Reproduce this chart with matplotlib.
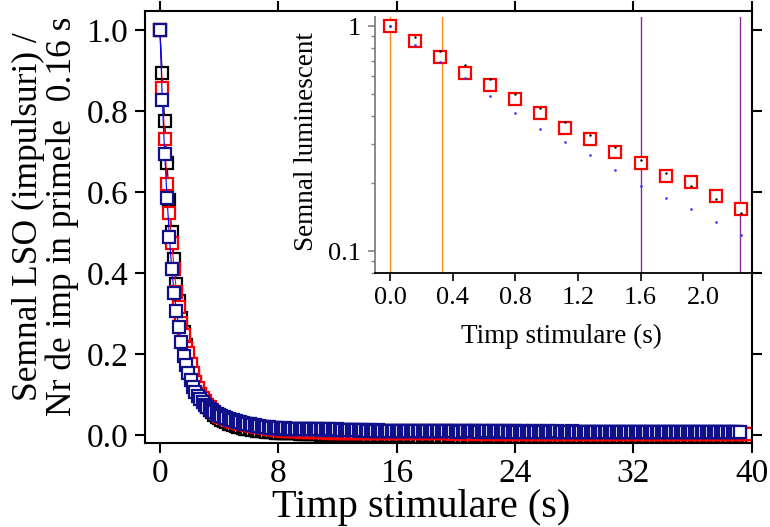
import matplotlib.pyplot as plt
import numpy as np
from matplotlib.ticker import LogLocator, NullFormatter, FixedLocator, FixedFormatter

plt.rcParams['font.family'] = ['Liberation Serif', 'DejaVu Serif']

# one channel = 0.16 s
step = 0.16

# normalised LSO signal
black_decay = [1.000, 0.893, 0.776, 0.671, 0.580, 0.502, 0.434, 0.374, 0.330, 0.290,
               0.255, 0.222, 0.195, 0.170, 0.148, 0.130, 0.114, 0.100, 0.088, 0.078,
               0.070, 0.062, 0.056, 0.050, 0.045, 0.041, 0.037, 0.034, 0.031, 0.028,
               0.026, 0.024, 0.022, 0.020, 0.019, 0.017, 0.016, 0.015, 0.014, 0.013,
               0.012, 0.011, 0.010, 0.010, 0.009, 0.008, 0.008, 0.007, 0.007, 0.006]
black_tail = [0.006, 0.006, 0.005, 0.005, 0.005, 0.004, 0.004, 0.004, 0.004, 0.003, 0.003, 0.003, 0.003, 0.002,
              0.002, 0.002, 0.002, 0.002, 0.001, 0.001, 0.001, 0.001, 0.001, 0.001, 0.000, 0.000, 0.000, 0.000,
              0.000, 0.000, -0.001, 0.000, -0.001, -0.001, -0.001, -0.001, -0.001, -0.001, -0.002, -0.001, -0.002, -0.002,
              -0.002, -0.002, -0.002, -0.002, -0.002, -0.002, -0.002, -0.003, -0.002, -0.003, -0.002, -0.003, -0.003, -0.003,
              -0.003, -0.003, -0.003, -0.003, -0.004, -0.003, -0.003, -0.003, -0.003, -0.004, -0.003, -0.003, -0.004, -0.003,
              -0.003, -0.004, -0.003, -0.004, -0.003, -0.003, -0.004, -0.004, -0.003, -0.004, -0.004, -0.003, -0.004, -0.004,
              -0.004, -0.003, -0.004, -0.004, -0.004, -0.004, -0.003, -0.004, -0.004, -0.004, -0.004, -0.004, -0.003, -0.004,
              -0.004, -0.004, -0.004, -0.004, -0.004, -0.003, -0.004, -0.004, -0.004, -0.004, -0.004, -0.004, -0.004, -0.004,
              -0.004, -0.004, -0.003, -0.004, -0.004, -0.004, -0.004, -0.004, -0.004, -0.004, -0.004, -0.004, -0.004, -0.004,
              -0.004, -0.004, -0.004, -0.004, -0.004, -0.004, -0.003, -0.004, -0.004, -0.004, -0.004, -0.004, -0.004, -0.004,
              -0.004, -0.004, -0.004, -0.004, -0.004, -0.004, -0.004, -0.004, -0.004, -0.004, -0.004, -0.004, -0.004, -0.004,
              -0.004, -0.004, -0.004, -0.004, -0.004, -0.004, -0.004, -0.004, -0.004, -0.004, -0.004, -0.004, -0.004, -0.004,
              -0.004, -0.004, -0.004, -0.004, -0.004, -0.004, -0.004, -0.004, -0.004, -0.004, -0.004, -0.004, -0.004, -0.004,
              -0.004, -0.004, -0.004, -0.004, -0.004, -0.004, -0.004, -0.004, -0.004, -0.004, -0.004, -0.004, -0.004, -0.004,
              -0.004, -0.004, -0.004, -0.004, -0.004]

red_decay = [1.000, 0.858, 0.731, 0.621, 0.547, 0.475, 0.410, 0.352, 0.316, 0.276,
             0.247, 0.215, 0.202, 0.176, 0.154, 0.132, 0.115, 0.102, 0.092, 0.083,
             0.075, 0.068, 0.062, 0.057, 0.052, 0.048, 0.045, 0.042, 0.039, 0.037,
             0.035, 0.033, 0.031, 0.029, 0.028, 0.027, 0.026, 0.025, 0.024, 0.023,
             0.022, 0.021, 0.020, 0.019, 0.018, 0.017, 0.016, 0.015, 0.014, 0.013]
red_tail = [0.012, 0.012, 0.011, 0.011, 0.010, 0.010, 0.010, 0.009, 0.009, 0.009, 0.008, 0.008, 0.008, 0.008,
            0.008, 0.007, 0.007, 0.007, 0.007, 0.007, 0.007, 0.006, 0.007, 0.006, 0.006, 0.007, 0.006, 0.006,
            0.006, 0.006, 0.006, 0.006, 0.005, 0.006, 0.006, 0.006, 0.005, 0.006, 0.005, 0.006, 0.005, 0.005,
            0.005, 0.006, 0.005, 0.005, 0.005, 0.005, 0.005, 0.005, 0.004, 0.005, 0.005, 0.005, 0.004, 0.005,
            0.005, 0.004, 0.005, 0.004, 0.005, 0.004, 0.004, 0.005, 0.004, 0.004, 0.004, 0.005, 0.004, 0.004,
            0.004, 0.004, 0.004, 0.004, 0.003, 0.004, 0.004, 0.004, 0.004, 0.003, 0.004, 0.004, 0.003, 0.004,
            0.004, 0.003, 0.004, 0.003, 0.004, 0.003, 0.003, 0.004, 0.003, 0.003, 0.004, 0.003, 0.003, 0.003,
            0.003, 0.004, 0.003, 0.003, 0.003, 0.003, 0.003, 0.004, 0.003, 0.003, 0.003, 0.003, 0.003, 0.003,
            0.003, 0.003, 0.002, 0.003, 0.003, 0.003, 0.003, 0.002, 0.003, 0.003, 0.003, 0.003, 0.002, 0.003,
            0.003, 0.003, 0.002, 0.003, 0.003, 0.002, 0.003, 0.003, 0.002, 0.003, 0.003, 0.002, 0.003, 0.002,
            0.003, 0.002, 0.003, 0.002, 0.003, 0.003, 0.002, 0.002, 0.003, 0.002, 0.003, 0.002, 0.002, 0.003,
            0.002, 0.003, 0.002, 0.002, 0.002, 0.003, 0.002, 0.002, 0.003, 0.002, 0.002, 0.002, 0.003, 0.002,
            0.002, 0.002, 0.003, 0.002, 0.002, 0.002, 0.002, 0.003, 0.002, 0.002, 0.002, 0.002, 0.002, 0.003,
            0.002, 0.002, 0.002, 0.002, 0.003, 0.002, 0.002, 0.002, 0.002, 0.002, 0.002, 0.003, 0.002, 0.002,
            0.002, 0.002, 0.002, 0.002, 0.002]

blue_decay = [1.000, 0.827, 0.695, 0.586, 0.489, 0.410, 0.350, 0.306, 0.267, 0.230,
              0.195, 0.173, 0.154, 0.135, 0.118, 0.105, 0.096, 0.088, 0.081, 0.075,
              0.069, 0.065, 0.060, 0.056, 0.053, 0.050, 0.047, 0.044, 0.042, 0.040,
              0.038, 0.036, 0.034, 0.032, 0.031, 0.029, 0.028, 0.027, 0.026, 0.025,
              0.024, 0.023, 0.022, 0.021, 0.020, 0.019, 0.019, 0.018, 0.018, 0.017]
blue_tail = [0.017, 0.016, 0.016, 0.017, 0.016, 0.015, 0.016, 0.015, 0.015, 0.016, 0.015, 0.014, 0.015, 0.015,
             0.014, 0.014, 0.015, 0.014, 0.013, 0.014, 0.014, 0.013, 0.014, 0.013, 0.013, 0.014, 0.013, 0.012,
             0.013, 0.012, 0.013, 0.012, 0.012, 0.013, 0.012, 0.011, 0.012, 0.012, 0.011, 0.012, 0.011, 0.011,
             0.012, 0.011, 0.011, 0.010, 0.011, 0.011, 0.010, 0.011, 0.010, 0.010, 0.011, 0.010, 0.010, 0.010,
             0.010, 0.009, 0.010, 0.010, 0.009, 0.010, 0.010, 0.009, 0.010, 0.009, 0.009, 0.010, 0.009, 0.009,
             0.010, 0.009, 0.009, 0.009, 0.010, 0.009, 0.009, 0.008, 0.009, 0.009, 0.009, 0.010, 0.009, 0.009,
             0.009, 0.008, 0.009, 0.009, 0.009, 0.008, 0.009, 0.009, 0.008, 0.009, 0.009, 0.008, 0.009, 0.009,
             0.008, 0.009, 0.009, 0.008, 0.008, 0.009, 0.008, 0.009, 0.008, 0.008, 0.009, 0.008, 0.008, 0.009,
             0.008, 0.008, 0.009, 0.008, 0.008, 0.008, 0.009, 0.008, 0.008, 0.007, 0.008, 0.008, 0.009, 0.008,
             0.008, 0.008, 0.007, 0.008, 0.008, 0.008, 0.007, 0.008, 0.008, 0.008, 0.007, 0.008, 0.008, 0.007,
             0.008, 0.008, 0.007, 0.008, 0.007, 0.008, 0.008, 0.007, 0.008, 0.007, 0.008, 0.008, 0.007, 0.008,
             0.007, 0.008, 0.008, 0.007, 0.007, 0.008, 0.007, 0.008, 0.007, 0.007, 0.008, 0.007, 0.007, 0.008,
             0.007, 0.007, 0.008, 0.007, 0.007, 0.007, 0.008, 0.007, 0.007, 0.007, 0.008, 0.007, 0.007, 0.007,
             0.008, 0.007, 0.007, 0.007, 0.007, 0.008, 0.007, 0.007, 0.007, 0.007, 0.007, 0.008, 0.007, 0.007]

# integration windows marked in the inset (s)
early_window = [0.0, 0.33]
late_window = [1.60, 2.235]

x_ticks = [0, 8, 16, 24, 32, 40]
y_ticks = [0.0, 0.2, 0.4, 0.6, 0.8, 1.0]
inset_x_ticks = [0.0, 0.4, 0.8, 1.2, 1.6, 2.0]


def main():
    fig = plt.figure(figsize=(7.7, 5.27), dpi=100)
    ax = fig.add_axes([0.1883, 0.1588, 0.7877, 0.8203])
    ins = fig.add_axes([0.487, 0.482, 0.488, 0.486])

    black = np.array(black_decay + black_tail)
    red = np.array(red_decay + red_tail)
    blue = np.array(blue_decay + blue_tail)

    draw_main(ax, black, red, blue)
    draw_inset(ins, black, red, blue)

    plt.savefig('out.png', dpi=100)


def channels(values):
    return np.arange(len(values)) * step


def draw_main(ax, black, red, blue):
    sq = dict(marker='s', ms=8, mew=1.6, mfc='white', lw=0.8)
    ax.plot(channels(black), black, color='black', mec='black', **sq)
    ax.plot(channels(red), red, color='#ff0000', mec='#ff0000', **sq)
    ax.plot(channels(blue), blue, color='#0000ff', mec='#10108a', **sq)

    ax.set_xlim(-1.01, 40)
    ax.set_ylim(-0.0205, 1.047)
    ax.set_xticks(x_ticks)
    ax.set_yticks(y_ticks, labels=[f'{v:.1f}' for v in y_ticks])
    ax.tick_params(axis='both', direction='out', length=7, width=1.5, labelsize=24)
    ax.tick_params(axis='x', pad=4)
    ax.tick_params(axis='y', pad=5)
    ax.tick_params(top=True, right=True, labeltop=False, labelright=False)
    for s in ax.spines.values():
        s.set_linewidth(1.5)

    # label anchors: top edge for x, right edge for the rotated y label
    ax.set_xlabel('Timp stimulare (s)', fontsize=29)
    ax.xaxis.set_label_coords(0.455, -0.106)
    ax.set_ylabel('Semnal LSO (impulsuri) /\nNr de imp in primele  0.16 s',
                  fontsize=25.5, linespacing=1.05)
    ax.yaxis.set_label_coords(-0.108, 0.524)


def draw_inset(ins, black, red, blue):
    ins.set_facecolor('none')
    for x in early_window:
        ins.axvline(x, color='#ff8c1a', lw=1.0)
    for x in late_window:
        ins.axvline(x, color='#8a2a9a', lw=1.0)

    ins.plot(channels(red), red, ls='none', marker='s', ms=8, mew=1.6,
             mfc='white', mec='#ff0000')
    ins.plot(channels(black), black, ls='none', marker='s', ms=0.7, color='black')
    ins.plot(channels(blue), blue, ls='none', marker='s', ms=0.8, color='#3030ff')

    ins.set_yscale('log')
    ins.set_xlim(-0.096, 2.304)
    ins.set_ylim(0.08, 1.1)
    ins.yaxis.set_major_locator(FixedLocator([0.1, 1.0]))
    ins.yaxis.set_major_formatter(FixedFormatter(['0.1', '1']))
    ins.yaxis.set_minor_locator(LogLocator(base=10, subs=np.arange(2, 10)))
    ins.yaxis.set_minor_formatter(NullFormatter())
    ins.set_xticks(inset_x_ticks, labels=[f'{v:.1f}' for v in inset_x_ticks])

    ins.spines['top'].set_visible(False)
    ins.spines['right'].set_visible(False)
    ins.spines['left'].set_color('#808080')
    ins.spines['left'].set_linewidth(1.3)
    ins.spines['bottom'].set_linewidth(1.3)
    ins.tick_params(axis='both', direction='out', labelsize=19)
    ins.tick_params(axis='x', length=6, width=1.2, pad=4)
    ins.tick_params(axis='y', which='major', length=5, width=1.2, color='#808080', pad=5)
    ins.tick_params(axis='y', which='minor', length=3, width=1.0, color='#808080')

    ins.set_xlabel('Timp stimulare (s)', fontsize=19.5)
    ins.xaxis.set_label_coords(0.495, -0.20)
    ins.set_ylabel('Semnal luminescent', fontsize=19.5)
    ins.yaxis.set_label_coords(-0.15, 0.514)


if __name__ == '__main__':
    main()
